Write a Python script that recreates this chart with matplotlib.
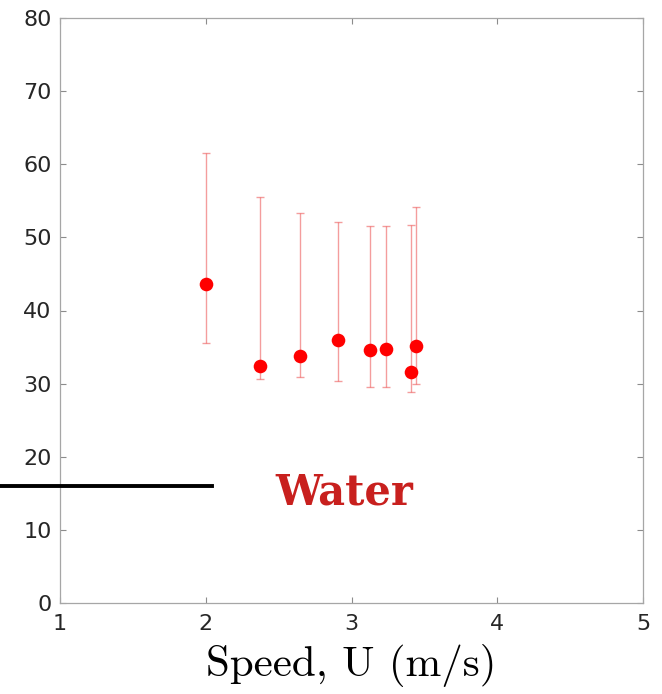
import matplotlib
matplotlib.use("Agg")
import matplotlib.pyplot as plt
from matplotlib.lines import Line2D

# Measured mean values with lower/upper bounds
speed = [2.00, 2.37, 2.65, 2.905, 3.127, 3.24, 3.406, 3.445]
value = [43.6, 32.4, 33.8, 35.95, 34.6, 34.8, 31.6, 35.1]
upper = [61.6, 55.5, 53.4, 52.1, 51.5, 51.6, 51.7, 54.1]
lower = [35.5, 30.7, 30.9, 30.4, 29.5, 29.6, 28.9, 29.9]

ref_level = 16.0
ref_x_end = 2.04
ref_label = "Water"

x_ticks = [1, 2, 3, 4, 5]
y_ticks = [0, 10, 20, 30, 40, 50, 60, 70, 80]
x_label = "Speed, U (m/s)"

fig = plt.figure(figsize=(6.62, 6.94), dpi=100)
fig.patch.set_facecolor("white")
ax = fig.add_axes([60 / 662, 91 / 694, 583 / 662, 585 / 694])

yerr = [[v - lo for v, lo in zip(value, lower)],
        [hi - v for v, hi in zip(value, upper)]]
ax.errorbar(speed, value, yerr=yerr, fmt="none", ecolor=(0.92, 0.3, 0.3, 0.55),
            elinewidth=1.0, capsize=3, capthick=1.0, zorder=2)
ax.plot(speed, value, "o", color="#ff0000", markersize=9.8, markeredgewidth=0, zorder=3)

ax.set_xlim(1, 5)
ax.set_ylim(0, 80)
ax.set_xticks(x_ticks)
ax.set_yticks(y_ticks)

for s in ax.spines.values():
    s.set_color("#a6a6a6")
    s.set_linewidth(0.9)
ax.tick_params(direction="in", length=4, width=0.8, color="#8c8c8c",
               top=True, right=True, labelsize=16, labelcolor="#262626")
ax.tick_params(axis="x", pad=8)
ax.tick_params(axis="y", pad=6)

ax.set_xlabel(x_label, fontfamily="cmr10", fontsize=31, labelpad=7, color="black")

# Reference level marker extending past the left edge of the axes
ax.add_line(Line2D([1 - 60 / 145.75, ref_x_end], [ref_level, ref_level],
                   color="black", linewidth=2.8, clip_on=False, zorder=4))
ax.text(2.95, 13.5, ref_label, ha="center", va="baseline", fontfamily="DejaVu Serif",
        fontweight="bold", fontsize=30, color="#c8201e")

fig.savefig("out.png", dpi=100, facecolor="white")
